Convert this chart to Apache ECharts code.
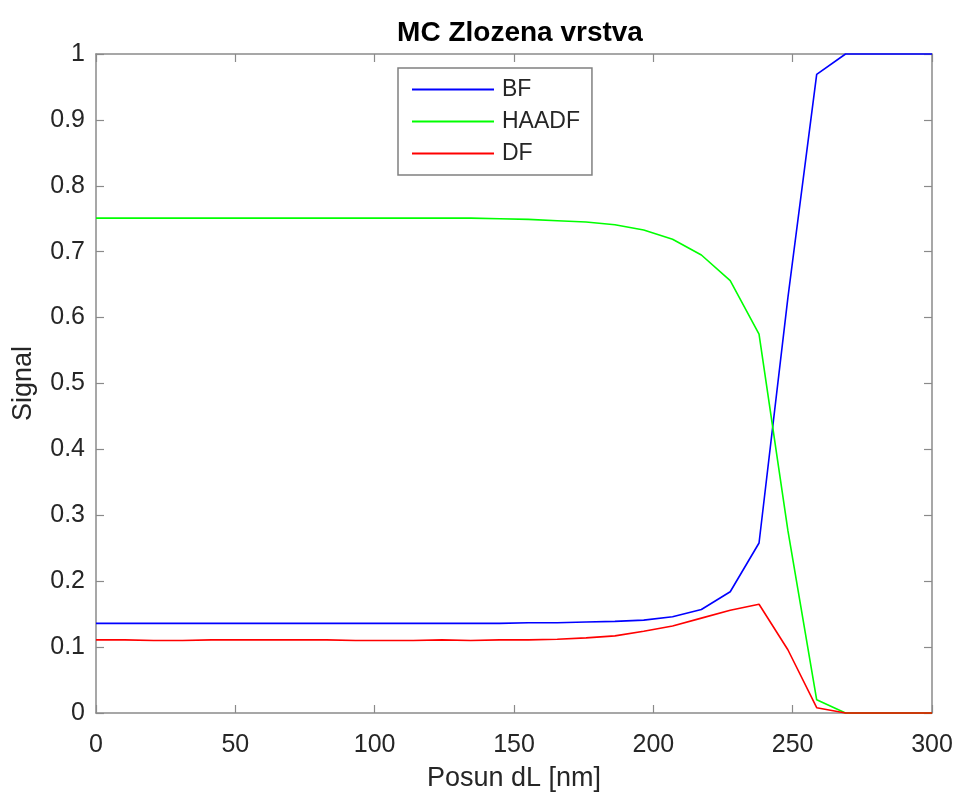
<!DOCTYPE html>
<html>
<head>
<meta charset="utf-8">
<script src="https://cdn.jsdelivr.net/npm/echarts@6/dist/echarts.min.js"></script>
<style>
  html, body { margin: 0; padding: 0; background: #fff; }
  #chart { width: 957px; height: 792px; }
</style>
</head>
<body>
<div id="chart"></div>
<script>
// Beam position dL [nm], 30 evenly spaced samples
const posun = [0, 10.34, 20.69, 31.03, 41.38, 51.72, 62.07, 72.41, 82.76, 93.10,
  103.45, 113.79, 124.14, 134.48, 144.83, 155.17, 165.52, 175.86, 186.21, 196.55,
  206.90, 217.24, 227.59, 237.93, 248.28, 258.62, 268.97, 279.31, 289.66, 300];

// Detector signals
const bf = [0.136, 0.136, 0.136, 0.136, 0.136, 0.136, 0.136, 0.136, 0.136, 0.136,
  0.136, 0.136, 0.136, 0.136, 0.136, 0.137, 0.137, 0.138, 0.139, 0.141,
  0.146, 0.157, 0.184, 0.258, 0.630, 0.969, 1.000, 1.000, 1.000, 1.000];
const haadf = [0.751, 0.751, 0.751, 0.751, 0.751, 0.751, 0.751, 0.751, 0.751, 0.751,
  0.751, 0.751, 0.751, 0.751, 0.750, 0.749, 0.747, 0.745, 0.741, 0.733,
  0.719, 0.695, 0.656, 0.575, 0.277, 0.020, 0.000, 0.000, 0.000, 0.000];
const df = [0.111, 0.111, 0.110, 0.110, 0.111, 0.111, 0.111, 0.111, 0.111, 0.110,
  0.110, 0.110, 0.111, 0.110, 0.111, 0.111, 0.112, 0.114, 0.117, 0.124,
  0.132, 0.144, 0.156, 0.165, 0.096, 0.008, 0.000, 0.000, 0.000, 0.000];

const xTicks = { min: 0, max: 300, interval: 50 };
const yTicks = { min: 0, max: 1, interval: 0.1 };

const FONT = '"Liberation Sans", Arial, Helvetica, sans-serif';
const AXIS_GRAY = '#8a8a8a';
const TEXT_DARK = '#262626';

const pairs = (ys) => posun.map((x, i) => [x, ys[i]]);

const chart = echarts.init(document.getElementById('chart'), null, { renderer: 'canvas' });

const baseAxis = {
  type: 'value',
  axisLine: { show: true, onZero: false, lineStyle: { color: AXIS_GRAY, width: 1.5 } },
  axisTick: { show: true, inside: true, length: 8, lineStyle: { color: AXIS_GRAY, width: 1.2 } },
  splitLine: { show: false },
  axisLabel: { show: true, color: TEXT_DARK, fontSize: 25, fontFamily: FONT }
};

chart.setOption({
  animation: false,
  backgroundColor: '#ffffff',
  title: {
    text: 'MC Zlozena vrstva',
    left: 515,
    textAlign: 'center',
    top: 14,
    textStyle: { fontFamily: FONT, fontWeight: 'bold', fontSize: 28, color: '#000' }
  },
  legend: {
    orient: 'vertical',
    left: 398,
    top: 68,
    padding: [10, 12, 10, 14],
    itemGap: 9,
    itemWidth: 82,
    itemHeight: 2,
    icon: 'rect',
    borderColor: '#808080',
    borderWidth: 1.5,
    backgroundColor: '#ffffff',
    textStyle: { fontFamily: FONT, fontSize: 23, color: TEXT_DARK, padding: [0, 0, 0, 3] },
    data: ['BF', 'HAADF', 'DF']
  },
  grid: {
    left: 96, right: 25, top: 54, bottom: 79,
    containLabel: false, outerBoundsMode: 'none'
  },
  xAxis: [
    Object.assign({}, baseAxis, xTicks, {
      position: 'bottom',
      name: 'Posun dL [nm]',
      nameLocation: 'middle',
      nameGap: 52,
      nameTextStyle: { fontFamily: FONT, fontSize: 27, color: TEXT_DARK },
      axisLabel: Object.assign({}, baseAxis.axisLabel, { margin: 20 })
    }),
    Object.assign({}, baseAxis, xTicks, {
      position: 'top',
      axisLabel: { show: false }
    })
  ],
  yAxis: [
    Object.assign({}, baseAxis, yTicks, {
      position: 'left',
      name: 'Signal',
      nameLocation: 'middle',
      nameGap: 59,
      nameTextStyle: { fontFamily: FONT, fontSize: 27, color: TEXT_DARK },
      axisLabel: Object.assign({}, baseAxis.axisLabel, { margin: 11 })
    }),
    Object.assign({}, baseAxis, yTicks, {
      position: 'right',
      axisLabel: { show: false }
    })
  ],
  series: [
    { name: 'BF', type: 'line', data: pairs(bf), color: '#0000ff' },
    { name: 'HAADF', type: 'line', data: pairs(haadf), color: '#00ff00' },
    { name: 'DF', type: 'line', data: pairs(df), color: '#ff0000' }
  ].map(s => Object.assign(s, {
    xAxisIndex: 0, yAxisIndex: 0,
    showSymbol: false, symbol: 'none', clip: false,
    lineStyle: { width: 1.6, color: s.color },
    itemStyle: { color: s.color }
  }))
});
</script>
</body>
</html>
